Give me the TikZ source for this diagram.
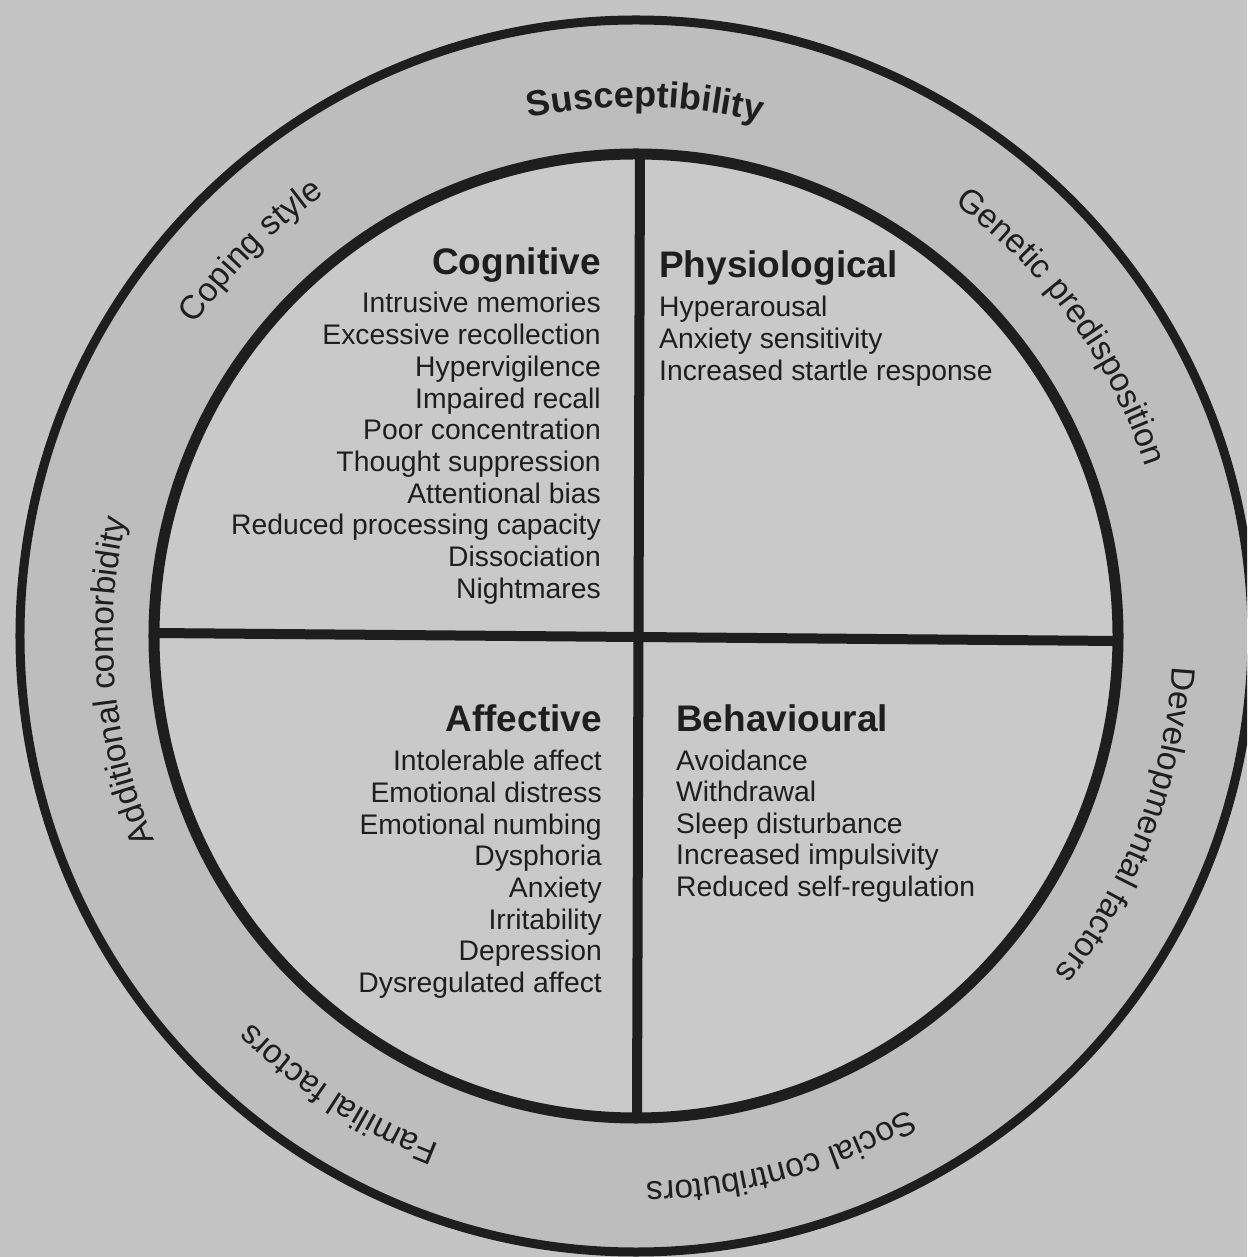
\documentclass[tikz,border=0pt]{standalone}
\usepackage{fontspec}
\setmainfont{Liberation Sans}
\usetikzlibrary{decorations.text}
\definecolor{bgcol}{HTML}{C4C4C4}
\definecolor{ringcol}{HTML}{BDBDBD}
\definecolor{innercol}{HTML}{C9C9C9}
\definecolor{linecol}{HTML}{1E1E1E}
\newcommand\ringfont{\fontsize{33.5}{36}\selectfont\color{linecol}}
\newcommand\suscfont{\fontsize{36}{40}\selectfont\bfseries\color{linecol}}
\newcommand\headfont{\fontsize{37}{40}\selectfont\bfseries}
\newcommand\itemfont{\fontsize{28.3}{31.7}\selectfont}
% #1 centre angle, #2 baseline radius, #3 text, #4 font
\newcommand\ringlabel[4]{%
  \path[decorate, decoration={text along path, text align=center, text={|#4|#3}}]
    (#1+55:#2) arc[start angle=#1+55, end angle=#1-55, radius=#2];}
\begin{document}
\begin{tikzpicture}[x=1pt,y=1pt,
  heading/.style={font=\headfont, text=linecol, inner sep=0pt},
  itemtext/.style={font=\itemfont, text=linecol, inner sep=0pt},
  ringline/.style={draw=linecol, line width=9pt},
  innerline/.style={draw=linecol, line width=11pt},
  crossline/.style={draw=linecol, line width=10pt}]
\useasboundingbox (-636,-621) rectangle (611,636);
\clip (-636,-621) rectangle (611,636);
\fill[bgcol] (-636,-621) rectangle (611,636);
% rings
\fill[ringcol] (0,0) circle[radius=616];
\fill[innercol] (0,0) circle[radius=482];
\path[ringline] (0,0) circle[radius=616];
\path[innerline] (0,0) circle[radius=482];
% cross
\coordinate (vtop) at (4,482);
\coordinate (vbot) at (1,-482);
\coordinate (hleft) at (-482,3);
\coordinate (hright) at (482,-5);
\path[crossline] (vtop) -- (vbot);
\path[crossline] (hleft) -- (hright);
% ring labels
\ringlabel{89}{529}{Susceptibility}{\suscfont}
\ringlabel{135}{540}{Coping style}{\ringfont}
\ringlabel{36}{537}{Genetic predisposition}{\ringfont}
\ringlabel{-21}{537}{Developmental factors}{\ringfont}
\ringlabel{-74.5}{546}{Social contributors}{\ringfont}
\ringlabel{-123}{545}{Familial factors}{\ringfont}
\ringlabel{185}{523}{Additional comorbidity}{\ringfont}
% Cognitive
\node[heading, anchor=base east] (cog) at (-35,361) {Cognitive};
\foreach \t [count=\i] in {Intrusive memories, Excessive recollection, Hypervigilence,
  Impaired recall, Poor concentration, Thought suppression, Attentional bias,
  Reduced processing capacity, Dissociation, Nightmares}
  \node[itemtext, anchor=base east] (cog\i) at (-35,{323-31.7*(\i-1)}) {\t};
% Physiological
\node[heading, anchor=base west] (phy) at (23,358) {Physiological};
\foreach \t [count=\i] in {Hyperarousal, Anxiety sensitivity, Increased startle response}
  \node[itemtext, anchor=base west] (phy\i) at (23,{319-31.6*(\i-1)}) {\t};
% Affective
\node[heading, anchor=base east] (aff) at (-34,-96) {Affective};
\foreach \t [count=\i] in {Intolerable affect, Emotional distress, Emotional numbing,
  Dysphoria, Anxiety, Irritability, Depression, Dysregulated affect}
  \node[itemtext, anchor=base east] (aff\i) at (-34,{-135-31.6*(\i-1)}) {\t};
% Behavioural
\node[heading, anchor=base west] (beh) at (40,-96) {Behavioural};
\foreach \t [count=\i] in {Avoidance, Withdrawal, Sleep disturbance,
  Increased impulsivity, Reduced self-regulation}
  \node[itemtext, anchor=base west] (beh\i) at (40,{-134-31.6*(\i-1)}) {\t};
\end{tikzpicture}
\end{document}
